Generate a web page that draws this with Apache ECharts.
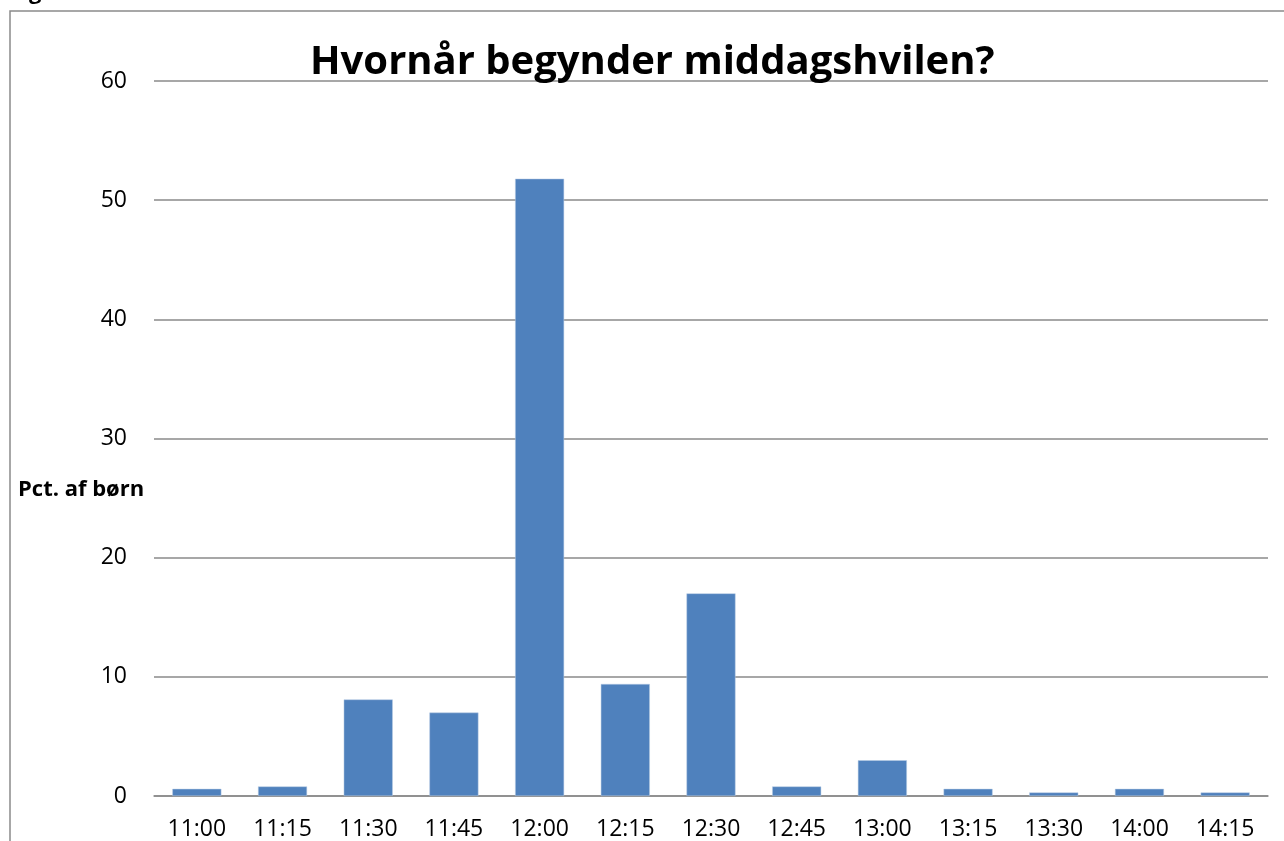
<!DOCTYPE html>
<html>
<head>
<meta charset="utf-8">
<script src="https://cdn.jsdelivr.net/npm/echarts@6/dist/echarts.min.js"></script>
<style>
  html, body { margin: 0; padding: 0; background: #fff; }
  #chart { width: 1284px; height: 841px; }
</style>
</head>
<body>
<div id="chart"></div>
<script>
const categories = ['11:00', '11:15', '11:30', '11:45', '12:00', '12:15', '12:30', '12:45', '13:00', '13:15', '13:30', '14:00', '14:15']
const pctChildren = [0.6, 0.8, 8.1, 7.0, 51.8, 9.4, 17.0, 0.8, 3.0, 0.6, 0.3, 0.6, 0.3]

const chart = echarts.init(document.getElementById('chart'))
const font = '"Open Sans", "Noto Sans", sans-serif'

chart.setOption({
  backgroundColor: '#fff',
  animation: false,
  title: {
    text: 'Hvornår begynder middagshvilen?',
    left: 305,
    top: 38,
    textStyle: {
      fontFamily: font,
      fontSize: 40,
      fontWeight: 'bold',
      color: '#000'
    }
  },
  graphic: [
    {
      type: 'rect',
      shape: { x: 10, y: 11, width: 1400, height: 1000 },
      style: { fill: 'none', stroke: '#8a8a8a', lineWidth: 1.5 },
      silent: true
    },
    {
      // cut-off letter from text above the chart frame
      type: 'text',
      x: 29,
      y: 4,
      style: {
        text: 'g',
        fontFamily: font,
        fontSize: 22,
        fontWeight: 'bold',
        fill: '#000',
        verticalAlign: 'bottom'
      }
    },
    {
      type: 'text',
      left: 18,
      top: 479,
      style: {
        text: 'Pct. af børn',
        fontFamily: font,
        fontSize: 22,
        fontWeight: 'bold',
        fill: '#000'
      }
    }
  ],
  grid: {
    left: 154,
    right: 16,
    top: 81,
    bottom: 42,
    containLabel: false
  },
  xAxis: {
    type: 'category',
    data: categories,
    axisTick: { show: false },
    axisLine: { lineStyle: { color: '#8a8a8a', width: 1.5 } },
    axisLabel: {
      color: '#000',
      fontFamily: font,
      fontSize: 23,
      margin: 22,
      interval: 0
    }
  },
  yAxis: {
    type: 'value',
    min: 0,
    max: 60,
    interval: 10,
    axisLine: { show: false },
    axisTick: { show: false },
    axisLabel: {
      color: '#000',
      fontFamily: font,
      fontSize: 23,
      margin: 27
    },
    splitLine: { lineStyle: { color: '#8a8a8a', width: 1.5 } }
  },
  series: [
    {
      type: 'bar',
      data: pctChildren,
      barWidth: 49,
      itemStyle: {
        color: '#4f81bd',
        borderColor: '#b9cde5',
        borderWidth: 0.5
      }
    }
  ]
})
</script>
</body>
</html>
